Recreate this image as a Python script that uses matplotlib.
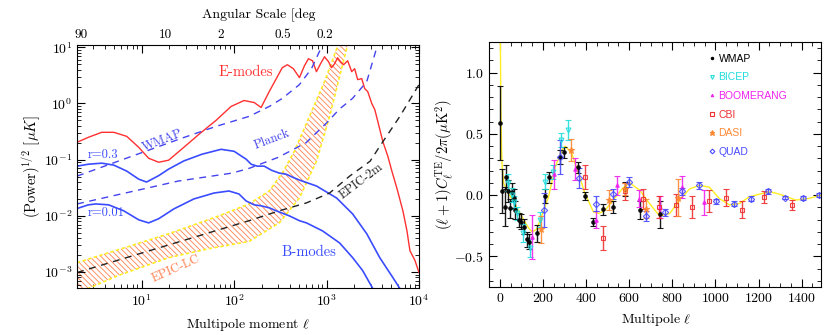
import matplotlib.pyplot as plt
import matplotlib.transforms as mtransforms
from matplotlib.lines import Line2D
from matplotlib.ticker import MultipleLocator, LogLocator, NullFormatter
import numpy as np

plt.rcParams["font.family"] = "serif"
plt.rcParams["font.serif"] = ["cmr10"]
plt.rcParams["mathtext.fontset"] = "cm"
plt.rcParams["axes.formatter.use_mathtext"] = True
plt.rcParams["hatch.linewidth"] = 0.6
plt.rcParams["axes.unicode_minus"] = True

# ---- left panel: (power)^1/2 in uK vs multipole
e_ell = [2, 2.65, 3.7, 5, 6.9, 9.3, 11.9, 15.3, 19.6, 28.6, 41.7, 63.7, 92.7, 128,
         165, 196, 240, 286, 332, 377, 438, 509, 577, 637, 705, 778, 861, 951,
         1051, 1133, 1222, 1318, 1420, 1531, 1692, 1871, 2015, 2172, 2401, 2588,
         2790, 3085, 3325, 3585, 4064, 4603, 5090, 5768, 6700, 7413, 7980, 9057, 10000]
e_pow = [0.204, 0.25, 0.307, 0.307, 0.26, 0.166, 0.106, 0.09, 0.098, 0.166, 0.283,
         0.5, 0.885, 1.13, 1.04, 0.85, 1.63, 2.77, 4.34, 4.9, 4.16, 2.89, 4.7, 6.26,
         5.77, 3.69, 5.1, 6.79, 5.54, 4.34, 5.1, 6.52, 5.54, 4.9, 5.77, 3.69, 4.16,
         2.66, 2.77, 1.84, 1.63, 1.0, 0.78, 0.48, 0.21, 0.115, 0.0626, 0.031, 0.0123,
         0.0054, 0.0024, 0.0016, 0.00098]

b_hi_ell = [2, 2.65, 3.7, 5, 6.9, 9.3, 11.3, 15.3, 19.6, 28.6, 44.9, 72.3, 100, 135,
            153, 178, 212, 253, 308, 367, 427, 509, 778, 1285, 1918, 2723, 3767, 5210, 6208]
b_hi_pow = [0.0767, 0.083, 0.0867, 0.08, 0.0626, 0.045, 0.04, 0.052, 0.068, 0.095,
            0.125, 0.153, 0.141, 0.102, 0.083, 0.0767, 0.0767, 0.065, 0.0577, 0.055,
            0.049, 0.0434, 0.034, 0.0208, 0.0108, 0.0048, 0.0018, 0.0008, 0.00051]

b_lo_ell = [2, 2.65, 3.2, 4.4, 6.4, 9.3, 11.9, 15.3, 22.3, 36.7, 60.7, 88, 113, 135,
            165, 196, 240, 286, 396, 509, 606, 905, 1384, 1918, 2460, 3162]
b_lo_pow = [0.0135, 0.0157, 0.0163, 0.0157, 0.0123, 0.0085, 0.0075, 0.0089, 0.0133,
            0.02, 0.0255, 0.0277, 0.0245, 0.0184, 0.0157, 0.0151, 0.0139, 0.0123, 0.01,
            0.0082, 0.0075, 0.0054, 0.0033, 0.0018, 0.00106, 0.00051]

wmap_ell = [2, 11, 27, 64, 145, 240, 332, 509, 687, 905]
wmap_pow = [0.051, 0.141, 0.24, 0.392, 0.589, 0.885, 1.23, 2.17, 4.16, 11.1]

planck_ell = [2, 25, 95, 145, 300, 600, 1000, 1385, 1918, 2723, 3467]
planck_pow = [0.0163, 0.0417, 0.0577, 0.07, 0.11, 0.2, 0.45, 0.8, 1.24, 2.45, 9.5]

epic2m_ell = [2, 145, 308, 606, 1079, 1778, 2960, 3767, 6208, 10000]
epic2m_pow = [0.00098, 0.0082, 0.0123, 0.017, 0.0255, 0.051, 0.094, 0.173, 0.589, 2.17]

lc_up_ell = [2, 5.6, 19.6, 68.7, 145, 240, 332, 449, 653, 951, 1285, 1420]
lc_up_pow = [0.00147, 0.0025, 0.0048, 0.01, 0.0163, 0.0277, 0.0577, 0.141, 0.589, 2.45, 9.4, 15.3]
lc_lo_ell = [2, 2.65, 5.6, 19.6, 53, 145, 308, 509, 778, 1079, 1384, 1648, 1824]
lc_lo_pow = [0.0004, 0.00051, 0.00087, 0.0018, 0.0026, 0.0035, 0.0075, 0.0208, 0.094,
             0.589, 3.0, 9.4, 15.3]

top_labels = ["90", "10", "2", "0.5", "0.2"]
top_label_ell = [2.2, 18, 72, 335, 950]

# ---- right panel: TE spectrum
theory_ell = [2, 5, 8, 11, 18, 41, 72, 103, 134, 150, 170, 188, 226, 257, 288, 303,
              334, 365, 395, 434, 460, 490, 526, 572, 603, 649, 695, 741, 788, 834,
              880, 926, 972, 1018, 1065, 1111, 1157, 1218, 1257, 1311, 1372, 1434, 1490]
theory_te = [1.4, 0.7, 0.38, 0.23, 0.095, 0.014, -0.08, -0.177, -0.27, -0.30, -0.28,
             -0.2, -0.014, 0.23, 0.367, 0.40, 0.34, 0.177, 0.014, -0.136, -0.15, -0.12,
             -0.04, 0.06, 0.10, 0.04, -0.07, -0.17, -0.15, -0.04, 0.05, 0.08, 0.065,
             -0.027, -0.08, -0.068, -0.014, 0.014, 0.027, 0.0, -0.04, -0.027, 0.0]

wmap_te_ell = [3, 11, 22, 31, 37, 46, 57, 65, 72, 88, 99, 114, 126, 137, 172, 211,
               229, 279, 300, 362, 396, 434, 477, 526, 580, 652, 741]
wmap_te = [0.59, 0.035, -0.095, 0.149, 0.035, -0.109, 0.027, -0.027, -0.122, -0.204,
           -0.217, -0.258, -0.359, -0.38, -0.313, -0.008, 0.144, 0.312, 0.348, 0.226,
           -0.008, -0.217, -0.117, -0.095, 0.05, -0.122, -0.155]
wmap_te_err = [0.30, 0.18, 0.16, 0.095, 0.088, 0.08, 0.075, 0.075, 0.075, 0.054, 0.061,
               0.061, 0.061, 0.061, 0.068, 0.054, 0.048, 0.054, 0.048, 0.048, 0.034,
               0.034, 0.048, 0.048, 0.054, 0.075, 0.11]

bicep_ell = [40, 55, 68, 80, 108, 142, 185, 208, 249, 285, 316]
bicep_te = [0.10, 0.0, -0.06, -0.15, -0.31, -0.43, -0.20, 0.11, 0.19, 0.45, 0.53]
bicep_err = [0.07, 0.06, 0.05, 0.05, 0.075, 0.075, 0.06, 0.06, 0.06, 0.06, 0.08]

boom_ell = [150, 250, 350, 445, 545, 645, 745, 845, 945]
boom_te = [-0.34, 0.17, 0.21, -0.20, 0.08, -0.03, -0.10, 0.07, -0.06]
boom_err = [0.18, 0.12, 0.09, 0.07, 0.08, 0.07, 0.09, 0.09, 0.10]

cbi_ell = [395, 480, 580, 665, 740, 815, 890, 970, 1050, 1125, 1225, 1355]
cbi_te = [0.15, -0.35, 0.03, -0.03, -0.10, -0.08, -0.10, -0.05, -0.02, -0.12, -0.015, -0.08]
cbi_err = [0.10, 0.10, 0.07, 0.08, 0.09, 0.09, 0.09, 0.09, 0.07, 0.07, 0.05, 0.04]

dasi_ell = [190, 330, 505, 580, 680, 825]
dasi_te = [-0.28, 0.37, -0.04, 0.05, -0.11, -0.02]
dasi_err = [0.11, 0.09, 0.08, 0.05, 0.08, 0.15]

quad_ell = [205, 280, 365, 445, 525, 600, 680, 765, 845, 925, 1005, 1085, 1165,
            1245, 1325, 1405, 1480]
quad_te = [-0.12, 0.31, 0.14, -0.07, 0.01, 0.11, -0.17, -0.14, 0.03, 0.08, -0.05,
           -0.07, -0.03, 0.03, -0.02, -0.025, 0.0]
quad_err = [0.14, 0.14, 0.08, 0.06, 0.04, 0.04, 0.04, 0.03, 0.03, 0.03, 0.02, 0.02,
            0.02, 0.02, 0.015, 0.015, 0.015]

RED = "#ff3030"
BLUE = "#3a4cff"
DBLUE = "#4444ee"
ORANGE = "#ff8050"
YELLOW = "#ffee22"

fig = plt.figure(figsize=(8.3, 3.35), dpi=100)
ax1 = fig.add_axes([0.0928, 0.1403, 0.412, 0.7254])
ax2 = fig.add_axes([0.5892, 0.1433, 0.400, 0.7313])

# ---------------- left panel
ax1.set_xscale("log")
ax1.set_yscale("log")
ax1.fill(np.r_[lc_up_ell, lc_lo_ell[::-1]], np.r_[lc_up_pow, lc_lo_pow[::-1]],
         facecolor="none", edgecolor=ORANGE, hatch="\\" * 6, lw=0)
ax1.plot(lc_up_ell, lc_up_pow, color=YELLOW, lw=1.2, ls=(0, (2, 1.5)))
ax1.plot(lc_lo_ell, lc_lo_pow, color=YELLOW, lw=1.2, ls=(0, (2, 1.5)))
ax1.plot(e_ell, e_pow, color=RED, lw=1)
ax1.plot(b_hi_ell, b_hi_pow, color=BLUE, lw=1.2)
ax1.plot(b_lo_ell, b_lo_pow, color=BLUE, lw=1.2)
ax1.plot(wmap_ell, wmap_pow, color=DBLUE, lw=1, ls=(0, (5, 4)))
ax1.plot(planck_ell, planck_pow, color=DBLUE, lw=1, ls=(0, (5, 4)))
ax1.plot(epic2m_ell, epic2m_pow, color="#222222", lw=1, ls=(0, (5, 4)))

ax1.set_xlim(2, 1e4)
ax1.set_ylim(5.2e-4, 11)
ax1.yaxis.set_minor_locator(LogLocator(subs=np.arange(2, 10), numticks=20))
ax1.yaxis.set_minor_formatter(NullFormatter())
ax1.xaxis.set_minor_locator(LogLocator(subs=np.arange(2, 10), numticks=20))
ax1.xaxis.set_minor_formatter(NullFormatter())
ax1.tick_params(which="both", direction="in", top=True, right=True, labelsize=10)
ax1.tick_params(which="major", length=6)
ax1.tick_params(which="minor", length=3)
ax1.set_xlabel(r"Multipole moment $\ell$", fontsize=10)
ax1.xaxis.set_label_coords(0.5, -0.115)
ax1.set_ylabel(r"(Power)$^{1/2}$ [$\mu K$]", fontsize=10.5)
ax1.yaxis.set_label_coords(-0.10, 0.5)

top_tr = mtransforms.blended_transform_factory(ax1.transData, ax1.transAxes)
for lab, pos in zip(top_labels, top_label_ell):
    ax1.text(pos, 1.041, lab, transform=top_tr, ha="center", va="center", fontsize=9.5)
ax1.text(0.53, 1.123, "Angular Scale [deg", transform=ax1.transAxes, ha="center",
         va="center", fontsize=10)

ax1.text(0.494, 0.889, "E-modes", color=RED, transform=ax1.transAxes, ha="center",
         va="center", fontsize=10.5)
ax1.text(0.678, 0.148, "B-modes", color=BLUE, transform=ax1.transAxes, ha="center",
         va="center", fontsize=10.5)
ax1.text(0.251, 0.605, "WMAP", color=DBLUE, transform=ax1.transAxes, ha="center",
         va="center", fontsize=9, rotation=21)
ax1.text(0.570, 0.613, "Planck", color=DBLUE, transform=ax1.transAxes, ha="center",
         va="center", fontsize=9, rotation=21)
ax1.text(0.032, 0.547, "r=0.3", color=BLUE, transform=ax1.transAxes, ha="left",
         va="center", fontsize=9)
ax1.text(0.032, 0.309, "r=0.01", color=BLUE, transform=ax1.transAxes, ha="left",
         va="center", fontsize=9)
ax1.text(0.29, 0.08, "EPIC-LC", color=ORANGE, transform=ax1.transAxes, ha="center",
         va="center", fontsize=9, rotation=24)
ax1.text(0.833, 0.44, "EPIC-2m", color="#222222", transform=ax1.transAxes, ha="center",
         va="center", fontsize=9, rotation=37)

# ---------------- right panel
ax2.plot(theory_ell, theory_te, color=YELLOW, lw=1)

experiments = [
    ("WMAP", wmap_te_ell, wmap_te, wmap_te_err, "o", "black", 2.5, True),
    ("BICEP", bicep_ell, bicep_te, bicep_err, "v", "#22dddd", 3.5, False),
    ("BOOMERANG", boom_ell, boom_te, boom_err, "^", "#ee22ee", 2.5, True),
    ("CBI", cbi_ell, cbi_te, cbi_err, "s", "#ee3030", 3.5, False),
    ("DASI", dasi_ell, dasi_te, dasi_err, "*", "#ff8833", 4.5, True),
    ("QUAD", quad_ell, quad_te, quad_err, "D", "#4a4aff", 3.2, False),
]
handles = []
for name, xs, ys, es, mk, col, ms, filled in experiments:
    ax2.errorbar(xs, ys, yerr=es, fmt=mk, color=col, ms=ms, mfc=col if filled else "none",
                 mec=col, mew=0.8, elinewidth=1, capsize=2, capthick=0.8, alpha=0.9)
    handles.append(Line2D([], [], ls="none", marker=mk, color=col, ms=ms - 0.8,
                          mfc=col if filled else "none", mec=col, mew=0.8))

leg = ax2.legend(handles, [e[0] for e in experiments], loc="upper left",
                 bbox_to_anchor=(0.635, 0.99), frameon=False, handlelength=0.5,
                 handletextpad=0.4, labelspacing=0.83,
                 labelcolor=[e[5] for e in experiments],
                 prop={"family": "Liberation Sans", "size": 7.5})

ax2.set_xlim(-50, 1490)
ax2.set_ylim(-0.75, 1.25)
ax2.xaxis.set_major_locator(MultipleLocator(200))
ax2.xaxis.set_minor_locator(MultipleLocator(50))
ax2.yaxis.set_major_locator(MultipleLocator(0.5))
ax2.yaxis.set_minor_locator(MultipleLocator(0.1))
ax2.tick_params(which="both", direction="in", top=True, right=True, labelsize=10)
ax2.tick_params(which="major", length=6)
ax2.tick_params(which="minor", length=3)
ax2.set_xlabel(r"Multipole $\ell$", fontsize=10)
ax2.xaxis.set_label_coords(0.503, -0.098)
ax2.set_ylabel(r"$(\ell+1)C_\ell^{\rm TE}/2\pi(\mu{\rm K}^2)$", fontsize=10.5)
ax2.yaxis.set_label_coords(-0.10, 0.5)

fig.savefig("out.png", dpi=100)
